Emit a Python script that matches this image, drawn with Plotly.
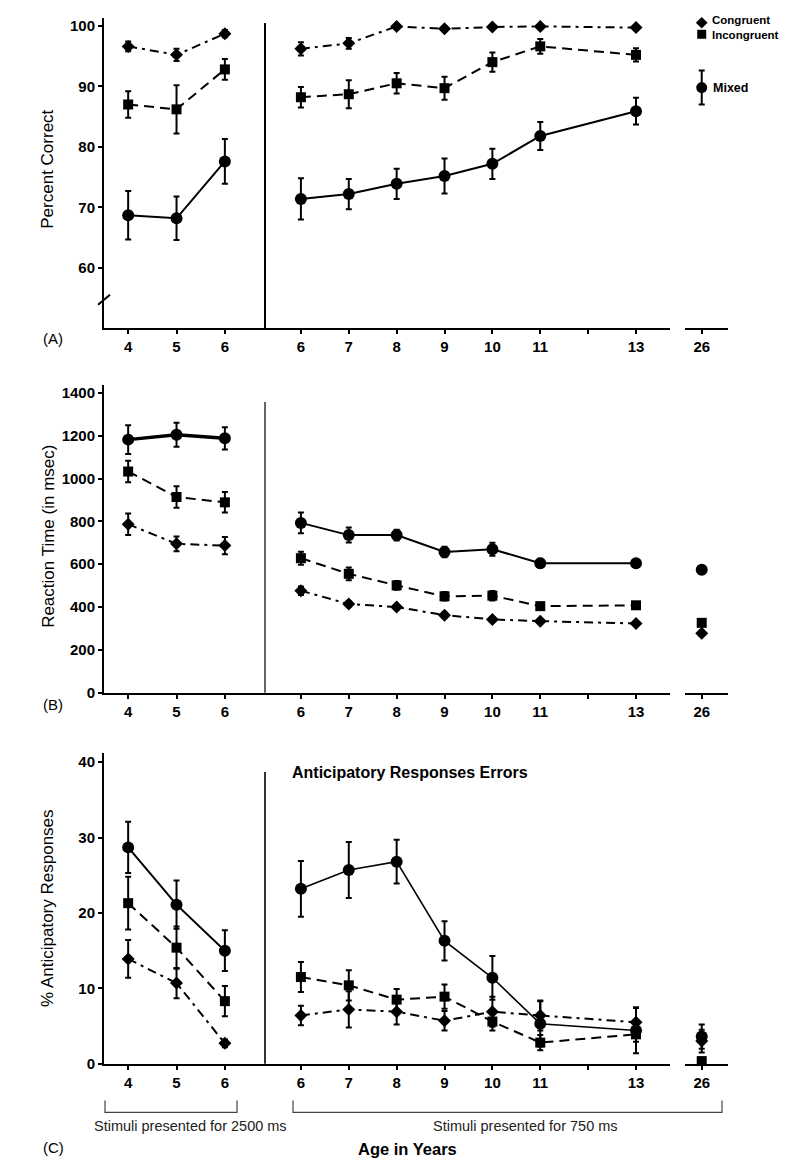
import plotly.graph_objects as go

# ---------------- data ----------------
ages_left = [4, 5, 6]
ages_right = [6, 7, 8, 9, 10, 11, 13]
ages_adult = [26]

# Panel A: Percent Correct
a_cong_left = [96.6, 95.2, 98.7]
a_cong_left_err = [0.8, 1.0, 0.6]
a_cong_right = [96.2, 97.1, 99.9, 99.5, 99.8, 99.9, 99.7]
a_cong_right_err = [1.1, 0.9, 0.3, 0.4, 0.3, 0.3, 0.3]
a_inc_left = [87.0, 86.2, 92.8]
a_inc_left_err = [2.2, 4.0, 1.7]
a_inc_right = [88.2, 88.7, 90.5, 89.7, 94.0, 96.6, 95.2]
a_inc_right_err = [1.7, 2.3, 1.7, 1.9, 1.6, 1.2, 1.1]
a_mix_left = [68.7, 68.2, 77.6]
a_mix_left_err = [4.0, 3.6, 3.7]
a_mix_right = [71.4, 72.2, 73.9, 75.2, 77.2, 81.8, 85.9]
a_mix_right_err = [3.4, 2.5, 2.5, 2.9, 2.5, 2.3, 2.2]

# Panel B: Reaction Time (msec)
b_cong_left = [787, 695, 687]
b_cong_left_err = [50, 35, 40]
b_cong_right = [476, 414, 400, 362, 342, 334, 323]
b_cong_right_err = [20, 12, 10, 12, 10, 8, 8]
b_cong_adult = [277]
b_cong_adult_err = [10]
b_inc_left = [1033, 914, 889]
b_inc_left_err = [50, 50, 48]
b_inc_right = [628, 555, 501, 450, 453, 404, 408]
b_inc_right_err = [30, 30, 20, 20, 22, 15, 12]
b_inc_adult = [326]
b_inc_adult_err = [10]
b_mix_left = [1182, 1205, 1188]
b_mix_left_err = [67, 56, 52]
b_mix_right = [793, 736, 736, 657, 670, 605, 605]
b_mix_right_err = [48, 35, 25, 25, 30, 20, 15]
b_mix_adult = [574]
b_mix_adult_err = [18]

# Panel C: % Anticipatory Responses
c_cong_left = [13.9, 10.7, 2.7]
c_cong_left_err = [2.5, 2.0, 0.5]
c_cong_right = [6.4, 7.2, 6.9, 5.7, 6.9, 6.4, 5.5]
c_cong_right_err = [1.3, 2.4, 1.7, 1.3, 2.0, 2.0, 2.0]
c_cong_adult = [3.0]
c_cong_adult_err = [1.5]
c_inc_left = [21.3, 15.4, 8.3]
c_inc_left_err = [3.5, 2.8, 2.0]
c_inc_right = [11.5, 10.4, 8.5, 8.9, 5.6, 2.8, 3.9]
c_inc_right_err = [2.0, 2.0, 1.4, 1.6, 1.2, 1.0, 1.0]
c_inc_adult = [0.35]
c_inc_adult_err = [0.3]
c_mix_left = [28.7, 21.1, 15.0]
c_mix_left_err = [3.4, 3.2, 2.7]
c_mix_right = [23.2, 25.7, 26.8, 16.3, 11.4, 5.3, 4.4]
c_mix_right_err = [3.7, 3.7, 2.9, 2.6, 2.9, 3.0, 3.0]
c_mix_adult = [3.6]
c_mix_adult_err = [1.6]

y_ticks_a = [60, 70, 80, 90, 100]
y_ticks_b = [0, 200, 400, 600, 800, 1000, 1200, 1400]
y_ticks_c = [0, 10, 20, 30, 40]
x_ticks_right = [6, 7, 8, 9, 10, 11, 12, 13]
x_ticklabels_right = ["6", "7", "8", "9", "10", "11", "", "13"]

legend_labels = ["Congruent", "Incongruent", "Mixed"]

# ---------------- layout helpers ----------------
PAGE_MARGIN = 8          # default body margin of the html page
W, H = 800 - 2 * PAGE_MARGIN, 1172 - 2 * PAGE_MARGIN
FONT = "Liberation Sans, Arial, sans-serif"


def px_x(p):
    return (p - PAGE_MARGIN) / W


def px_y(p):
    return 1 - (p - PAGE_MARGIN) / H


col_px = [(104, 265), (265, 670), (685, 728)]
col_range = [(3.5, 6.83), (5.25, 13.71), (25.65, 26.55)]
row_px = [(17, 330), (387, 697), (758, 1071)]
row_range = [(50, 101.3), (0, 1437), (0, 41.2)]
row_ticks = [y_ticks_a, y_ticks_b, y_ticks_c]

fig = go.Figure()
layout = {}


def ax_id(r, c):
    return r * 3 + c + 1


for r in range(3):
    for c in range(3):
        k = ax_id(r, c)
        xs = "" if k == 1 else str(k)
        if c == 0:
            tv, tt = ages_left, [str(a) for a in ages_left]
        elif c == 1:
            tv, tt = x_ticks_right, x_ticklabels_right
        else:
            tv, tt = ages_adult, [str(a) for a in ages_adult]
        layout["xaxis" + xs] = dict(
            domain=[px_x(col_px[c][0]), px_x(col_px[c][1])],
            range=list(col_range[c]),
            anchor="y" + xs,
            showline=True, linecolor="black", linewidth=2,
            ticks="outside", ticklen=4, tickwidth=2, tickcolor="black",
            tickvals=tv, ticktext=tt,
            tickfont=dict(family=FONT, size=15, color="black", weight="bold"),
            showgrid=False, zeroline=False, fixedrange=True,
        )
        layout["yaxis" + xs] = dict(
            domain=[px_y(row_px[r][1]), px_y(row_px[r][0])],
            range=list(row_range[r]),
            anchor="x" + xs,
            showline=(c == 0), linecolor="black", linewidth=2,
            ticks="outside" if c == 0 else "", ticklen=4, tickwidth=2,
            tickcolor="black",
            tickvals=row_ticks[r],
            showticklabels=(c == 0),
            tickfont=dict(family=FONT, size=15, color="black", weight="bold"),
            showgrid=False, zeroline=False, fixedrange=True,
        )

STYLES = {
    "cong": dict(symbol="diamond", size=10, dash="9px,5px,3px,5px"),
    "inc": dict(symbol="square", size=10, dash="10px,6px"),
    "mix": dict(symbol="circle", size=12, dash="solid"),
}


def add_series(r, c, xs, ys, errs, kind, mode="lines+markers", width=2):
    k = ax_id(r, c)
    s = "" if k == 1 else str(k)
    st = STYLES[kind]
    fig.add_trace(go.Scatter(
        x=xs, y=ys, mode=mode,
        xaxis="x" + s, yaxis="y" + s,
        line=dict(color="black", width=width, dash=st["dash"]),
        marker=dict(symbol=st["symbol"], size=st["size"], color="black"),
        error_y=dict(type="data", array=errs, visible=True, color="black",
                     thickness=2, width=3),
        cliponaxis=False, showlegend=False, hoverinfo="x+y",
    ))


# Panel A
add_series(0, 0, ages_left, a_cong_left, a_cong_left_err, "cong")
add_series(0, 0, ages_left, a_inc_left, a_inc_left_err, "inc")
add_series(0, 0, ages_left, a_mix_left, a_mix_left_err, "mix")
add_series(0, 1, ages_right, a_cong_right, a_cong_right_err, "cong")
add_series(0, 1, ages_right, a_inc_right, a_inc_right_err, "inc")
add_series(0, 1, ages_right, a_mix_right, a_mix_right_err, "mix")

# Panel B
add_series(1, 0, ages_left, b_cong_left, b_cong_left_err, "cong")
add_series(1, 0, ages_left, b_inc_left, b_inc_left_err, "inc")
add_series(1, 0, ages_left, b_mix_left, b_mix_left_err, "mix", width=3.5)
add_series(1, 1, ages_right, b_cong_right, b_cong_right_err, "cong")
add_series(1, 1, ages_right, b_inc_right, b_inc_right_err, "inc")
add_series(1, 1, ages_right, b_mix_right, b_mix_right_err, "mix")
add_series(1, 2, ages_adult, b_cong_adult, b_cong_adult_err, "cong", mode="markers")
add_series(1, 2, ages_adult, b_inc_adult, b_inc_adult_err, "inc", mode="markers")
add_series(1, 2, ages_adult, b_mix_adult, b_mix_adult_err, "mix", mode="markers")

# Panel C
add_series(2, 0, ages_left, c_cong_left, c_cong_left_err, "cong")
add_series(2, 0, ages_left, c_inc_left, c_inc_left_err, "inc")
add_series(2, 0, ages_left, c_mix_left, c_mix_left_err, "mix")
add_series(2, 1, ages_right, c_cong_right, c_cong_right_err, "cong")
add_series(2, 1, ages_right, c_inc_right, c_inc_right_err, "inc")
add_series(2, 1, ages_right, c_mix_right, c_mix_right_err, "mix", width=1.6)
add_series(2, 2, ages_adult, c_cong_adult, c_cong_adult_err, "cong", mode="markers")
add_series(2, 2, ages_adult, c_inc_adult, c_inc_adult_err, "inc", mode="markers")
add_series(2, 2, ages_adult, c_mix_adult, c_mix_adult_err, "mix", mode="markers")

# Legend key (drawn in panel A, right-most column)
legend_y = [100.5, 98.6, 89.8]
legend_err = [0, 0, 2.8]
for kind, yv, ev in zip(["cong", "inc", "mix"], legend_y, legend_err):
    st = STYLES[kind]
    fig.add_trace(go.Scatter(
        x=ages_adult, y=[yv], mode="markers", xaxis="x3", yaxis="y3",
        marker=dict(symbol=st["symbol"], size=st["size"] - 1, color="black"),
        error_y=dict(type="data", array=[ev], visible=ev > 0, color="black",
                     thickness=2, width=3),
        cliponaxis=False, showlegend=False, hoverinfo="skip",
    ))

shapes = []
# separators between the 2500 ms and 750 ms groups
for (top, bot), w in zip([(22, 330), (404, 697), (777, 1071)], [2, 1.2, 1.6]):
    shapes.append(dict(type="line", xref="paper", yref="paper",
                       x0=px_x(265), x1=px_x(265), y0=px_y(bot), y1=px_y(top),
                       line=dict(color="black", width=w)))
# axis break mark in panel A
shapes.append(dict(type="line", xref="paper", yref="paper",
                   x0=px_x(98), x1=px_x(110), y0=px_y(306), y1=px_y(296),
                   line=dict(color="black", width=2)))
# brackets under panel C
for x0, x1 in [(105, 237), (293, 722)]:
    shapes.append(dict(type="path", xref="paper", yref="paper",
                       path=f"M {px_x(x0)},{px_y(1108)} L {px_x(x0)},{px_y(1120)} "
                            f"L {px_x(x1)},{px_y(1120)} L {px_x(x1)},{px_y(1108)}",
                       line=dict(color="#444", width=1.2)))

ann = []


def text(x, y, t, size, bold=False, angle=0, xanchor="center", color="black"):
    ann.append(dict(x=px_x(x), y=px_y(y), xref="paper", yref="paper", text=t,
                    showarrow=False, textangle=angle, xanchor=xanchor,
                    align=xanchor if xanchor != "center" else "center",
                    yanchor="middle", borderpad=0,
                    font=dict(family=FONT, size=size, color=color,
                              weight="bold" if bold else "normal")))


text(48, 170, "Percent Correct", 17, angle=-90)
text(49, 540, "Reaction Time (in msec)", 17, angle=-90)
text(48, 914, "% Anticipatory Responses", 17, angle=-90)
text(53, 340, "(A)", 15)
text(53, 709, "(B)", 15)
text(53, 1155, "(C)", 15)
text(410, 777, "Anticipatory Responses Errors", 16, bold=True)
text(190, 1134, "Stimuli presented for 2500 ms", 14.5, color="#222")
text(525, 1134, "Stimuli presented for 750 ms", 14.5, color="#222")
text(407, 1157, "Age in Years", 16.5, bold=True)
text(711, 27, legend_labels[0] + "<br>" + legend_labels[1], 11.5,
     bold=True, xanchor="left")
text(712, 88, legend_labels[2], 12.5, bold=True, xanchor="left")

layout.update(dict(
    width=W, height=H, margin=dict(l=0, r=0, t=0, b=0),
    paper_bgcolor="white", plot_bgcolor="white",
    showlegend=False, shapes=shapes, annotations=ann,
    font=dict(family=FONT, color="black"),
))
fig.update_layout(**layout)
fig.write_html("out.html")
